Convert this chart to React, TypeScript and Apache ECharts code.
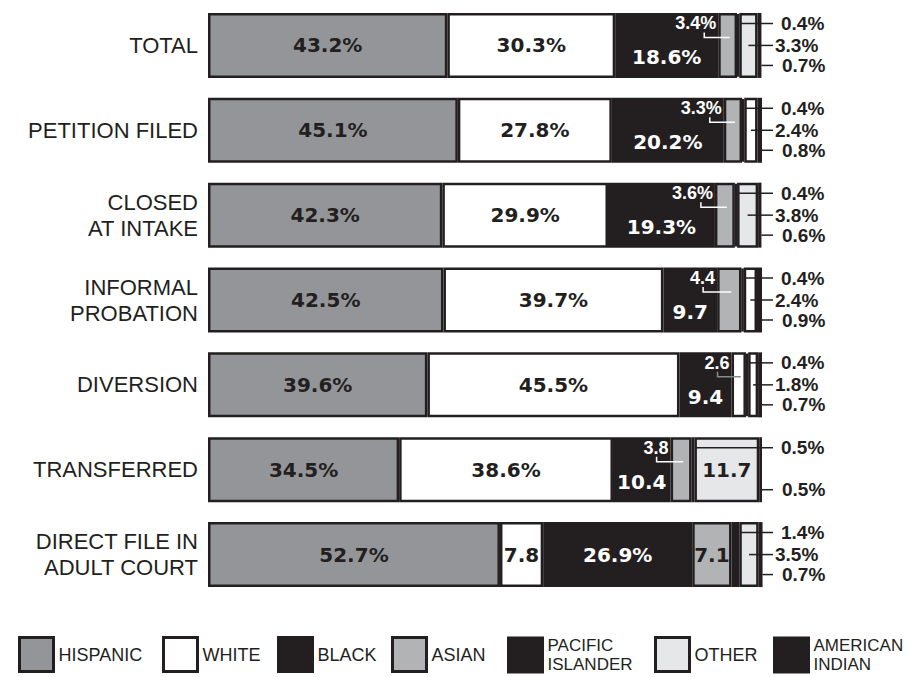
import React, { useEffect, useRef } from "react";
import * as echarts from "echarts";

const categories = [
  "TOTAL",
  "PETITION FILED",
  "CLOSED\nAT INTAKE",
  "INFORMAL\nPROBATION",
  "DIVERSION",
  "TRANSFERRED",
  "DIRECT FILE IN\nADULT COURT",
];
const seriesNames = ["HISPANIC", "WHITE", "BLACK", "ASIAN", "PACIFIC ISLANDER", "OTHER", "AMERICAN INDIAN"];

const hispanic = [43.2, 45.1, 42.3, 42.5, 39.6, 34.5, 52.7];
const white = [30.3, 27.8, 29.9, 39.7, 45.5, 38.6, 7.8];
const black = [18.6, 20.2, 19.3, 9.7, 9.4, 10.4, 26.9];
const asian = [3.4, 3.3, 3.6, 4.4, 2.6, 3.8, 7.1];
const pacificIslander = [0.4, 0.4, 0.4, 0.4, 0.4, 0.5, 1.4];
const other = [3.3, 2.4, 3.8, 2.4, 1.8, 11.7, 3.5];
const americanIndian = [0.7, 0.8, 0.6, 0.9, 0.7, 0.5, 0.7];

const hispanicLabels = ["43.2%", "45.1%", "42.3%", "42.5%", "39.6%", "34.5%", "52.7%"];
const whiteLabels = ["30.3%", "27.8%", "29.9%", "39.7%", "45.5%", "38.6%", "7.8"];
const blackLabels = ["18.6%", "20.2%", "19.3%", "9.7", "9.4", "10.4", "26.9%"];
const asianLabels = ["3.4%", "3.3%", "3.6%", "4.4", "2.6", "3.8", "7.1"];
const pacificLabels = ["0.4%", "0.4%", "0.4%", "0.4%", "0.4%", "0.5%", "1.4%"];
const otherLabels = ["3.3%", "2.4%", "3.8%", "2.4%", "1.8%", "11.7", "3.5%"];
const americanIndianLabels = ["0.7%", "0.8%", "0.6%", "0.9%", "0.7%", "0.5%", "0.7%"];

// rows whose label sits inside the segment (others are called out)
const asianInBarRows = [6];
const otherInBarRows = [5];
// rows where the segment is drawn white in the original
const asianWhiteRows = [4];
const otherWhiteRows = [1, 3, 4];

const DARK = "#231f20";
const BAR_H = 65;
const FONT = "Liberation Sans";

const allRows = categories.map((_, i) => i);

function bar(
  name: string,
  values: number[],
  color: string,
  labels: string[],
  labelColor: string,
  labelRows: number[],
  whiteRows: number[],
  offsetRows: number[]
) {
  return {
    type: "bar",
    name,
    stack: "all",
    barWidth: BAR_H,
    itemStyle: { color, borderColor: DARK, borderWidth: 2.5 },
    data: values.map((v, i) => {
      const d: any = {
        value: v,
        label: { show: labelRows.includes(i), offset: offsetRows.includes(i) ? [0, 12] : [0, 0] },
      };
      if (whiteRows.includes(i)) d.itemStyle = { color: "#ffffff" };
      return d;
    }),
    label: {
      show: false,
      position: "inside",
      formatter: (p: any) => labels[p.dataIndex],
      color: labelColor,
      fontFamily: "DejaVu Sans",
      fontWeight: "bold",
      fontSize: 20,
    },
  };
}

function renderCallouts(params: any, api: any) {
  const i = params.dataIndex;
  const yc = api.coord([0, i])[1];
  const X = (v: number) => api.coord([v, i])[0];
  const cumA = hispanic[i] + white[i] + black[i];
  const cumP = cumA + asian[i];
  const cumO = cumP + pacificIslander[i];
  const cumI = cumO + other[i];
  const xR = X(100);
  const lineEnd = xR + 11;
  const children: any[] = [];
  const txt = (x: number, y: number, text: string, fill: string, size: number, align: string) => ({
    type: "text",
    x,
    y,
    style: {
      text,
      fill,
      fontSize: size,
      fontWeight: "bold",
      fontFamily: FONT,
      align,
      verticalAlign: "middle",
    },
  });
  const ln = (x1: number, y1: number, x2: number, y2: number, stroke: string) => ({
    type: "line",
    shape: { x1, y1, x2, y2 },
    style: { stroke, lineWidth: 1.5 },
  });

  // Pacific Islander (top)
  const yTop = yc - 22;
  children.push(ln(X(cumO) + 1, yTop, lineEnd, yTop, DARK));
  children.push(txt(xR + 19, yTop, pacificLabels[i], DARK, 19, "left"));

  // Other (middle)
  if (!otherInBarRows.includes(i)) {
    children.push(ln(X(cumO + other[i] / 2), yc, lineEnd, yc, DARK));
    children.push(txt(xR + 13, yc, otherLabels[i], DARK, 19, "left"));
  }

  // American Indian (bottom)
  const yBot = yc + 20;
  children.push(ln(X(cumI + americanIndian[i]), yBot, lineEnd, yBot, DARK));
  children.push(txt(xR + 20, yBot, americanIndianLabels[i], DARK, 19, "left"));

  // Asian callout inside the black segment
  if (!asianInBarRows.includes(i)) {
    const xa = X(cumA);
    children.push(txt(xa - 2, yc - 22, asianLabels[i], "#ffffff", 18, "right"));
    children.push({
      type: "polyline",
      shape: {
        points: [
          [xa - 14, yc - 13],
          [xa - 14, yc - 8],
          [X(cumA + asian[i] / 2) + 2, yc - 8],
        ],
      },
      style: { stroke: asianWhiteRows.includes(i) ? "#8a8a8a" : "#ffffff", lineWidth: 1.5, fill: null },
    });
  }
  return { type: "group", children };
}

const legendLeft = [18, 162, 277, 391, 507, 654, 773];

const option: any = {
  animation: false,
  backgroundColor: "#ffffff",
  textStyle: { fontFamily: FONT },
  grid: { left: 208, right: 151, top: 3, bottom: 80, containLabel: false },
  xAxis: { type: "value", min: 0, max: 100, show: false },
  yAxis: {
    type: "category",
    data: categories,
    inverse: true,
    axisLine: { show: false },
    axisTick: { show: false },
    splitLine: { show: false },
    axisLabel: { fontSize: 22, color: DARK, fontFamily: FONT, lineHeight: 26, margin: 10, align: "right" },
  },
  legend: seriesNames.map((n, k) => {
    const twoLine = n.includes(" ");
    return {
      data: [n],
      left: legendLeft[k],
      top: 636,
      padding: 0,
      orient: "horizontal",
      itemWidth: 34,
      itemHeight: 34,
      icon: "rect",
      selectedMode: false,
      itemStyle: { borderColor: DARK, borderWidth: 3 },
      formatter: (name: string) => name.replace(" ", "\n"),
      textStyle: {
        fontSize: twoLine ? 17 : 18,
        color: DARK,
        fontFamily: FONT,
        lineHeight: twoLine ? 19 : 20,
      },
    };
  }),
  series: [
    bar(seriesNames[0], hispanic, "#939598", hispanicLabels, DARK, allRows, [], []),
    bar(seriesNames[1], white, "#ffffff", whiteLabels, DARK, allRows, [], []),
    bar(seriesNames[2], black, DARK, blackLabels, "#ffffff", allRows, [], [0, 1, 2, 3, 4, 5]),
    bar(seriesNames[3], asian, "#b1b3b5", asianLabels, DARK, asianInBarRows, asianWhiteRows, []),
    bar(seriesNames[4], pacificIslander, DARK, pacificLabels, DARK, [], [], []),
    bar(seriesNames[5], other, "#e6e7e8", otherLabels, DARK, otherInBarRows, otherWhiteRows, []),
    bar(seriesNames[6], americanIndian, DARK, americanIndianLabels, DARK, [], [], []),
    {
      type: "custom",
      name: "callouts",
      z: 10,
      silent: true,
      encode: { x: 0, y: 1 },
      data: allRows.map((i) => [0, i]),
      renderItem: renderCallouts,
    },
  ],
};

export default function App() {
  const ref = useRef<HTMLDivElement>(null);
  useEffect(() => {
    const chart = echarts.init(ref.current!, null, { renderer: "svg" });
    chart.setOption(option);
    return () => chart.dispose();
  }, []);
  return (
    <div
      ref={ref}
      style={{ position: "absolute", left: 0, top: 0, width: 913, height: 677, background: "#fff" }}
    />
  );
}
